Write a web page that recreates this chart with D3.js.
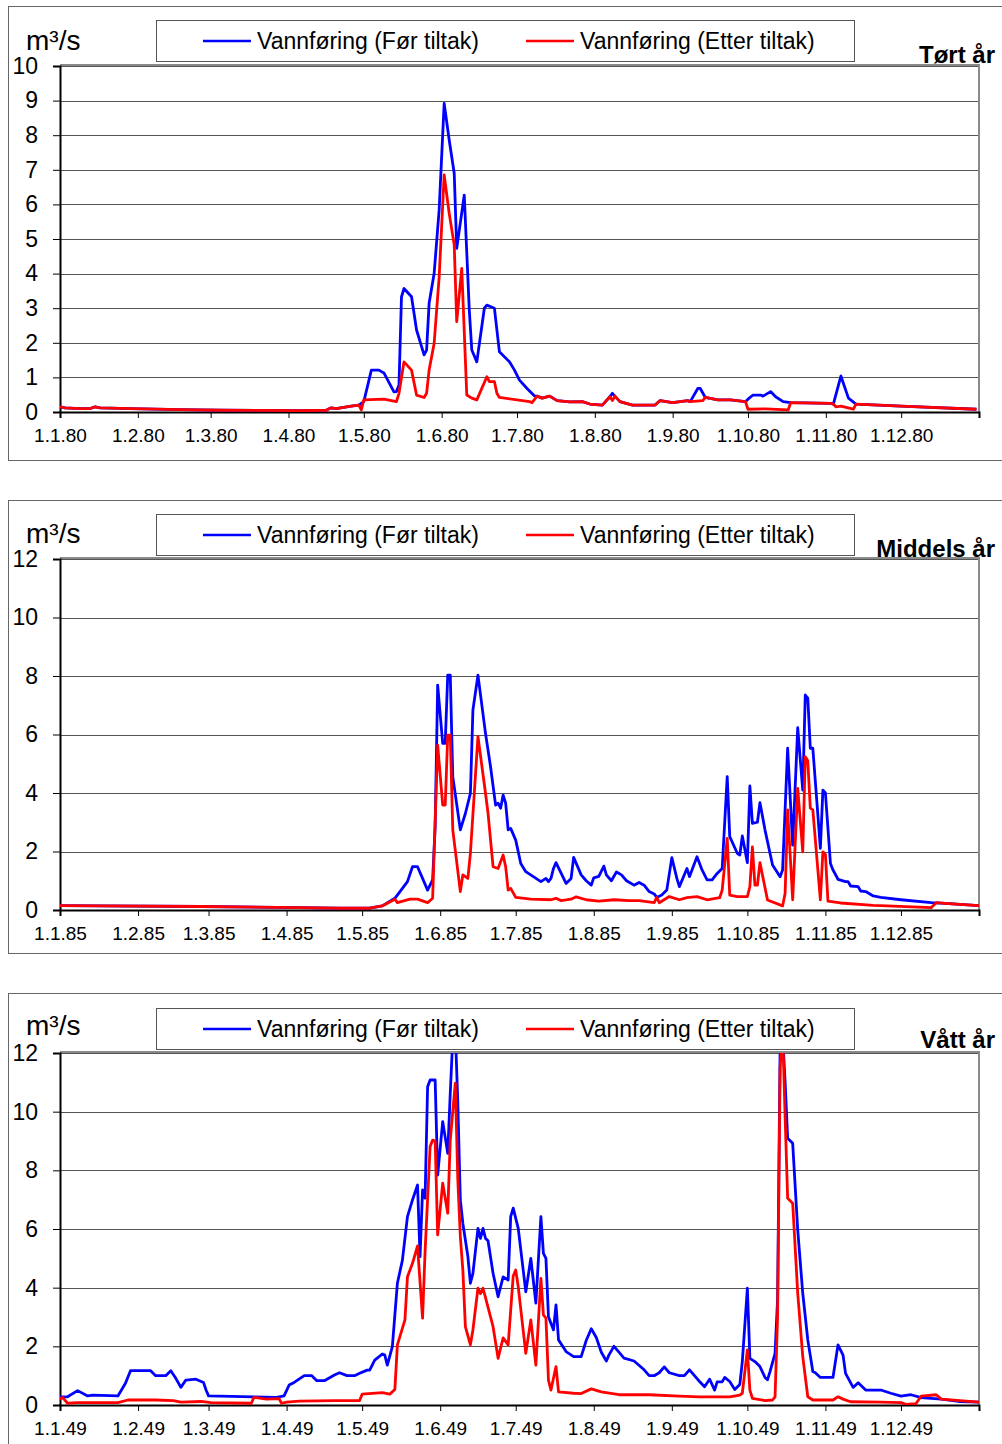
<!DOCTYPE html>
<html>
<head>
<meta charset="utf-8">
<script src="https://cdn.jsdelivr.net/npm/d3@7/dist/d3.min.js"></script>
<style>
  html, body { margin: 0; padding: 0; background: #fff; }
  svg { display: block; font-family: "Liberation Sans", Arial, sans-serif; }
</style>
</head>
<body>
<svg id="chart" width="1002" height="1444"></svg>
<script>
// Daily discharge (m³/s) as [day of year, value], before and after the measure.
const dryBefore = [[0,0.15],[2,0.12],[8,0.1],[12,0.1],[14,0.15],[16,0.12],[28,0.1],[48,0.07],[64,0.05],[96,0.04],[106,0.05],[108,0.12],[110,0.1],[116,0.17],[119,0.2],[121,0.3],[124,1.21],[127,1.21],[129,1.13],[133,0.58],[134,0.59],[135,0.78],[136,3.33],[137,3.57],[140,3.33],[142,2.37],[145,1.65],[146,1.79],[147,3.14],[149,4.0],[151,5.84],[153,8.92],[155,7.86],[157,6.9],[158,4.73],[161,6.27],[163,2.95],[164,1.79],[166,1.45],[169,3.0],[170,3.09],[173,3.0],[175,1.74],[179,1.45],[181,1.21],[183,0.92],[186,0.68],[189,0.46],[190,0.46],[192,0.4],[195,0.46],[198,0.33],[203,0.29],[208,0.3],[211,0.23],[216,0.2],[219,0.44],[220,0.54],[221,0.46],[223,0.3],[228,0.2],[237,0.2],[239,0.33],[244,0.27],[250,0.33],[251,0.3],[254,0.68],[255,0.68],[257,0.42],[262,0.35],[267,0.35],[273,0.3],[274,0.37],[276,0.49],[279,0.49],[280,0.46],[283,0.59],[285,0.44],[288,0.3],[291,0.27],[307,0.25],[308,0.23],[311,1.04],[314,0.4],[317,0.23],[335,0.17],[365,0.08]];
const dryAfter = [[0,0.15],[2,0.12],[8,0.1],[12,0.1],[14,0.15],[16,0.12],[28,0.1],[48,0.07],[64,0.05],[96,0.04],[106,0.05],[108,0.12],[110,0.1],[116,0.17],[119,0.2],[120,0.06],[121,0.35],[129,0.37],[134,0.3],[135,0.54],[137,1.45],[140,1.21],[142,0.49],[145,0.42],[146,0.54],[147,1.21],[149,1.98],[151,3.9],[153,6.85],[155,5.74],[157,4.83],[158,2.61],[160,4.15],[162,0.49],[164,0.4],[166,0.35],[170,1.02],[171,0.88],[173,0.88],[174,0.54],[175,0.42],[187,0.3],[188,0.27],[190,0.46],[192,0.4],[195,0.46],[198,0.33],[203,0.29],[208,0.3],[211,0.23],[216,0.2],[219,0.44],[220,0.33],[221,0.46],[223,0.3],[228,0.2],[237,0.2],[239,0.33],[244,0.27],[250,0.33],[251,0.3],[256,0.33],[257,0.42],[262,0.35],[267,0.35],[273,0.3],[274,0.08],[281,0.09],[290,0.06],[291,0.27],[307,0.25],[308,0.23],[309,0.15],[311,0.17],[316,0.08],[317,0.23],[335,0.17],[365,0.08]];

const normalBefore = [[0,0.15],[16,0.14],[56,0.12],[95,0.08],[111,0.06],[123,0.06],[128,0.14],[133,0.4],[136,0.74],[138,0.97],[140,1.48],[142,1.48],[144,1.08],[146,0.68],[148,1.03],[149,2.85],[150,7.69],[152,5.7],[153,5.7],[154,8.03],[155,8.03],[156,4.56],[159,2.74],[161,3.3],[163,3.99],[164,6.84],[166,8.03],[169,6.04],[171,4.9],[173,3.59],[174,3.65],[175,3.48],[176,3.93],[177,3.65],[178,2.74],[179,2.79],[181,2.39],[183,1.59],[185,1.31],[188,1.14],[191,0.97],[193,1.08],[194,0.97],[195,1.08],[196,1.42],[197,1.62],[201,0.91],[203,1.08],[204,1.8],[207,1.2],[209,1.0],[211,0.85],[212,1.1],[214,1.15],[216,1.5],[217,1.2],[219,1.0],[221,1.3],[223,1.2],[225,1.0],[228,0.85],[230,0.94],[232,0.85],[234,0.63],[236,0.55],[237,0.43],[239,0.51],[241,0.68],[243,1.79],[245,1.08],[246,0.8],[249,1.42],[250,1.14],[253,1.82],[255,1.37],[257,1.03],[259,1.03],[261,1.25],[263,1.42],[265,4.56],[266,2.51],[269,1.94],[270,1.88],[271,2.53],[273,1.62],[274,4.24],[275,2.96],[277,3.0],[278,3.67],[280,2.74],[283,1.54],[286,1.14],[287,1.37],[289,5.53],[291,2.22],[293,6.23],[295,4.1],[296,7.35],[297,7.24],[298,5.53],[299,5.53],[302,2.11],[303,4.1],[304,4.0],[306,1.59],[307,1.37],[309,1.05],[312,0.97],[313,0.97],[314,0.82],[317,0.8],[318,0.65],[320,0.63],[323,0.48],[326,0.43],[334,0.35],[346,0.25],[353,0.22],[365,0.15]];
const normalAfter = [[0,0.15],[16,0.14],[56,0.12],[95,0.08],[111,0.06],[123,0.06],[128,0.14],[133,0.37],[134,0.25],[139,0.37],[142,0.37],[146,0.25],[148,0.4],[150,5.64],[152,3.59],[153,3.59],[154,5.98],[155,5.98],[156,2.74],[159,0.63],[160,1.2],[162,1.08],[163,1.94],[166,5.93],[169,3.99],[170,3.31],[172,1.48],[174,1.42],[176,1.88],[177,1.48],[178,0.68],[179,0.74],[181,0.43],[187,0.37],[195,0.35],[197,0.4],[199,0.32],[203,0.37],[205,0.45],[209,0.35],[214,0.3],[220,0.35],[226,0.32],[230,0.32],[236,0.25],[237,0.43],[238,0.25],[242,0.46],[246,0.35],[249,0.42],[253,0.46],[257,0.35],[262,0.42],[263,0.68],[265,2.45],[266,0.51],[269,0.46],[273,0.46],[274,0.8],[275,2.16],[276,0.85],[277,0.85],[278,1.62],[281,0.34],[287,0.14],[288,0.57],[289,3.42],[291,0.35],[293,4.16],[295,1.99],[296,5.24],[297,5.1],[298,3.48],[299,3.42],[302,0.35],[303,1.99],[304,1.9],[305,0.3],[310,0.24],[323,0.16],[326,0.15],[346,0.08],[348,0.25],[353,0.22],[365,0.15]];

const wetBefore = [[0,0.28],[3,0.28],[7,0.49],[11,0.31],[13,0.34],[23,0.31],[26,0.74],[28,1.17],[36,1.17],[38,1.0],[42,1.0],[44,1.17],[46,0.91],[48,0.6],[50,0.85],[54,0.88],[57,0.77],[58,0.51],[59,0.31],[77,0.28],[86,0.26],[89,0.31],[91,0.68],[93,0.77],[97,1.0],[100,1.0],[102,0.83],[105,0.83],[109,1.02],[111,1.1],[114,1.0],[117,1.0],[119,1.08],[122,1.19],[123,1.19],[125,1.53],[126,1.6],[128,1.74],[129,1.7],[130,1.36],[132,1.99],[134,4.15],[136,4.94],[138,6.42],[140,6.99],[142,7.5],[143,5.06],[144,7.33],[145,7.05],[146,10.85],[147,11.08],[149,11.08],[150,7.84],[152,9.66],[154,8.58],[155,10.63],[156,12.5],[157,12.8],[158,10.3],[159,6.99],[160,6.19],[162,5.06],[163,4.15],[164,4.49],[166,6.02],[167,5.68],[168,6.02],[169,5.68],[170,5.6],[172,4.49],[174,3.69],[176,4.37],[178,4.26],[179,6.42],[180,6.71],[182,6.02],[185,3.86],[187,5.0],[189,3.47],[191,6.42],[192,5.17],[193,5.0],[194,3.01],[196,2.56],[197,3.41],[198,2.22],[201,1.82],[204,1.65],[207,1.65],[209,2.2],[211,2.6],[213,2.3],[215,1.8],[217,1.5],[218,1.7],[220,2.0],[222,1.8],[224,1.6],[228,1.5],[232,1.2],[234,1.0],[236,1.0],[238,1.1],[240,1.3],[242,1.1],[246,1.0],[248,1.0],[250,1.2],[252,1.0],[254,0.8],[256,0.62],[258,0.88],[260,0.51],[261,0.79],[263,0.79],[264,0.94],[266,0.8],[268,0.53],[270,0.7],[271,1.48],[273,3.98],[274,1.59],[276,1.48],[278,1.31],[280,0.94],[281,0.86],[282,1.14],[284,1.76],[285,3.6],[286,12.1],[287,12.6],[288,11.0],[289,9.09],[291,8.92],[293,5.97],[295,3.81],[297,2.22],[299,1.14],[300,1.1],[302,0.94],[307,0.94],[309,2.05],[311,1.7],[312,1.08],[315,0.6],[317,0.76],[320,0.51],[326,0.51],[330,0.4],[334,0.3],[338,0.35],[342,0.25],[350,0.2],[357,0.12],[365,0.1]];
const wetAfter = [[0,0.19],[1,0.26],[3,0.06],[7,0.08],[23,0.08],[27,0.17],[38,0.17],[45,0.15],[48,0.1],[56,0.12],[60,0.08],[76,0.06],[77,0.26],[82,0.2],[87,0.22],[88,0.06],[90,0.1],[95,0.13],[109,0.15],[119,0.15],[120,0.37],[128,0.42],[131,0.37],[133,0.53],[134,2.05],[137,2.9],[138,4.37],[140,4.83],[142,5.42],[144,2.96],[145,5.23],[147,8.81],[148,9.03],[149,9.0],[150,5.8],[152,7.56],[154,6.54],[155,9.03],[157,10.97],[158,7.67],[159,5.74],[160,4.6],[161,2.67],[163,2.05],[164,2.56],[166,3.98],[167,3.8],[168,3.98],[169,3.66],[172,2.67],[174,1.59],[176,2.29],[178,2.05],[180,4.4],[181,4.6],[182,4.03],[185,1.76],[187,2.9],[189,1.36],[191,4.32],[192,3.07],[193,2.96],[194,0.85],[195,0.51],[197,1.31],[198,0.45],[204,0.4],[207,0.39],[211,0.55],[215,0.45],[222,0.35],[234,0.35],[246,0.3],[254,0.28],[266,0.28],[270,0.34],[271,0.4],[273,1.88],[274,0.51],[275,0.23],[280,0.15],[283,0.17],[284,0.28],[285,3.0],[286,11.5],[287,12.8],[288,9.8],[289,7.05],[291,6.88],[293,3.81],[295,1.65],[297,0.28],[299,0.17],[307,0.17],[309,0.28],[311,0.2],[314,0.11],[326,0.1],[334,0.08],[336,0.02],[340,0.05],[342,0.3],[348,0.35],[350,0.2],[365,0.1]];

const panelTitles = ["Tørt år", "Middels år", "Vått år"];
const panelYears = [1980, 1985, 1949];
const yTicks = [[0,1,2,3,4,5,6,7,8,9,10], [0,2,4,6,8,10,12], [0,2,4,6,8,10,12]];
const seriesNames = ["Vannføring (Før tiltak)", "Vannføring (Etter tiltak)"];
const unitLabel = "m³/s";

// Layout of the three stacked charts
const layout = [
  { frameTop: 6,   frameBottom: 460,  legendTop: 20,   plotTop: 66,   plotBottom: 412,  titleY: 63,   unitY: 50 },
  { frameTop: 500, frameBottom: 953,  legendTop: 514,  plotTop: 559,  plotBottom: 910,  titleY: 557,  unitY: 543 },
  { frameTop: 993, frameBottom: 1448, legendTop: 1008, plotTop: 1053, plotBottom: 1405, titleY: 1048, unitY: 1035 }
];
const plotLeft = 60, plotRight = 979;
const colors = ["#0000ff", "#ff0000"];

const svg = d3.select("#chart");
const seriesByPanel = [[dryBefore, dryAfter], [normalBefore, normalAfter], [wetBefore, wetAfter]];

seriesByPanel.forEach((series, i) => {
  const L = layout[i];
  const year = panelYears[i];
  const g = svg.append("g");

  // outer chart frame (runs off the right edge)
  g.append("rect")
    .attr("x", 8.5).attr("y", L.frameTop + 0.5)
    .attr("width", 1010).attr("height", L.frameBottom - L.frameTop)
    .attr("fill", "none").attr("stroke", "#666").attr("stroke-width", 1);

  const start = new Date(Date.UTC(year, 0, 1));
  const end = new Date(Date.UTC(year + 1, 0, 1));
  const x = d3.scaleUtc().domain([start, end]).range([plotLeft, plotRight]);
  const ticks = yTicks[i];
  const y = d3.scaleLinear().domain([0, ticks[ticks.length - 1]]).range([L.plotBottom, L.plotTop]);

  // gridlines
  g.append("g").selectAll("line").data(ticks.slice(1)).join("line")
    .attr("x1", plotLeft).attr("x2", plotRight)
    .attr("y1", d => Math.round(y(d)) + 0.5).attr("y2", d => Math.round(y(d)) + 0.5)
    .attr("stroke", "#555").attr("stroke-width", 1);

  // plot-area border (top and right)
  g.append("path")
    .attr("d", `M${plotLeft},${L.plotTop - 1}H${plotRight}V${L.plotBottom}`)
    .attr("fill", "none").attr("stroke", "#8a8a8a").attr("stroke-width", 2);

  // y axis
  const yAxis = d3.axisLeft(y).tickValues(ticks).tickSize(7).tickPadding(15)
    .tickFormat(d3.format("d"));
  const ya = g.append("g").attr("transform", `translate(${plotLeft},0)`).call(yAxis);
  ya.select(".domain").attr("stroke", "#000").attr("stroke-width", 2);
  ya.selectAll(".tick line").attr("stroke", "#000");
  ya.selectAll(".tick text").attr("font-size", 23).attr("fill", "#000")
    .attr("font-family", "Liberation Sans, Arial, sans-serif");

  // x axis: tick at every month start, labelled d.m.yy
  const monthStarts = d3.utcMonth.range(start, new Date(Date.UTC(year + 1, 0, 2)));
  const fmt = d3.utcFormat("%-d.%-m.%y");
  const xAxis = d3.axisBottom(x).tickValues(monthStarts).tickSize(6).tickPadding(11)
    .tickFormat(d => (d.getUTCFullYear() === year ? fmt(d) : ""));
  const xa = g.append("g").attr("transform", `translate(0,${L.plotBottom})`).call(xAxis);
  xa.select(".domain").attr("stroke", "#000").attr("stroke-width", 2);
  xa.selectAll(".tick line").attr("stroke", "#000");
  xa.selectAll(".tick text").attr("font-size", 19).attr("fill", "#000")
    .attr("font-family", "Liberation Sans, Arial, sans-serif");

  // data lines, clipped to the plot area
  const clipId = "clip" + i;
  svg.append("clipPath").attr("id", clipId).append("rect")
    .attr("x", plotLeft).attr("y", L.plotTop)
    .attr("width", plotRight - plotLeft).attr("height", L.plotBottom - L.plotTop);
  const line = d3.line()
    .x(d => x(new Date(Date.UTC(year, 0, 1 + d[0]))))
    .y(d => y(d[1]));
  const lines = g.append("g").attr("clip-path", `url(#${clipId})`);
  series.forEach((s, k) => {
    lines.append("path").datum(s)
      .attr("d", line).attr("fill", "none")
      .attr("stroke", colors[k]).attr("stroke-width", 2.8)
      .attr("stroke-linejoin", "round");
  });

  // unit label
  g.append("text").attr("x", 26).attr("y", L.unitY)
    .attr("font-size", 28).text(unitLabel);

  // legend
  const lg = g.append("g");
  lg.append("rect").attr("x", 156.5).attr("y", L.legendTop + 0.5)
    .attr("width", 698).attr("height", 41)
    .attr("fill", "#fff").attr("stroke", "#555").attr("stroke-width", 1);
  const legendX = [[203, 257], [526, 580]];
  seriesNames.forEach((name, k) => {
    const cy = L.legendTop + 21;
    lg.append("line").attr("x1", legendX[k][0]).attr("x2", legendX[k][0] + 48)
      .attr("y1", cy).attr("y2", cy)
      .attr("stroke", colors[k]).attr("stroke-width", 2.6);
    lg.append("text").attr("x", legendX[k][1]).attr("y", cy + 8)
      .attr("font-size", 23).text(name);
  });

  // panel title
  g.append("text").attr("x", 995).attr("y", L.titleY)
    .attr("text-anchor", "end").attr("font-size", 24).attr("font-weight", "bold")
    .text(panelTitles[i]);
});
</script>
</body>
</html>
